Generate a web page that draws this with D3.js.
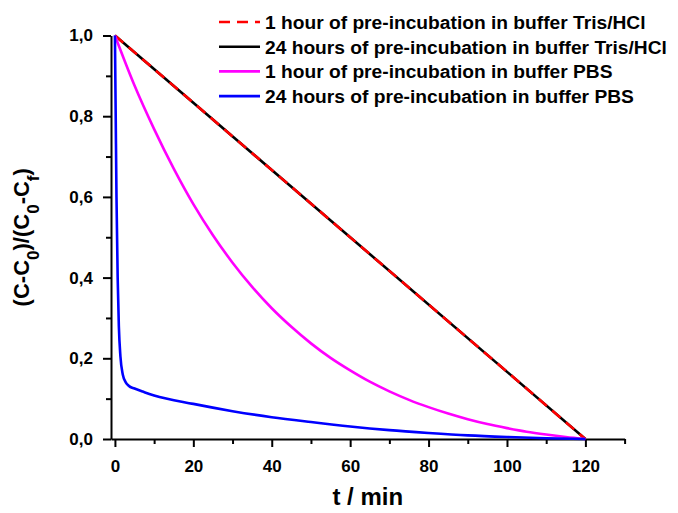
<!DOCTYPE html>
<html>
<head>
<meta charset="utf-8">
<script src="https://cdn.jsdelivr.net/npm/d3@7"></script>
<style>
  body { margin: 0; background: #fff; }
  svg text { font-family: "Liberation Sans", Arial, sans-serif; font-weight: bold; fill: #000; }
</style>
</head>
<body>
<div id="chart"></div>
<script>
// series names (legend order)
var seriesNames = [
    "1 hour of pre-incubation in buffer Tris/HCl",
    "24 hours of pre-incubation in buffer Tris/HCl",
    "1 hour of pre-incubation in buffer PBS",
    "24 hours of pre-incubation in buffer PBS"
];

// Tris/HCl, 1 h and 24 h (identical straight lines)
var trisTime = [0, 120];
var tris1h = [1.0, 0.0];
var tris24h = [1.0, 0.0];

// PBS 1 h
var pbs1hTime = [0, 5, 10, 15, 20, 25, 30, 35, 40, 45, 50, 55, 60, 65, 70, 75, 80, 85, 90, 95, 100, 105, 110, 115, 120];
var pbs1h = [1.0, 0.876, 0.768, 0.670, 0.582, 0.505, 0.437, 0.377, 0.324, 0.278, 0.237, 0.201, 0.170, 0.142, 0.118, 0.097, 0.079, 0.063, 0.049, 0.037, 0.027, 0.018, 0.011, 0.005, 0.0];

// PBS 24 h
var pbs24hTime = [0, 0.2, 0.4, 0.7, 1.0, 1.4, 2, 2.8, 3.5, 5, 7.5, 10, 20, 30, 40, 50, 60, 70, 80, 90, 100, 110, 120];
var pbs24h = [1.0, 0.8, 0.6, 0.4, 0.28, 0.205, 0.16, 0.14, 0.132, 0.125, 0.116, 0.108, 0.087, 0.069, 0.054, 0.042, 0.031, 0.022, 0.015, 0.009, 0.005, 0.002, 0.0];

var xMajorTicks = [0, 20, 40, 60, 80, 100, 120];
var xMinorTicks = [10, 30, 50, 70, 90, 110, 130];
var yMajorTicks = [0, 0.2, 0.4, 0.6, 0.8, 1.0];
var yMinorTicks = [0.1, 0.3, 0.5, 0.7, 0.9];

var width = 678, height = 513;
var margin = {top: 35.5, right: 53.4, bottom: 74, left: 111},
    w = width - margin.left - margin.right,
    h = height - margin.top - margin.bottom;

var svg = d3.select("#chart").append("svg")
    .attr("width", width)
    .attr("height", height);

var g = svg.append("g")
    .attr("transform", "translate(" + margin.left + "," + margin.top + ")");

var x = d3.scaleLinear().domain([-1, 130]).range([0, w]);
var y = d3.scaleLinear().domain([0, 1]).range([h, 0]);

var fmt = function(d) { return d3.format(".1f")(d).replace(".", ","); };

// minor ticks first
g.append("g")
    .attr("transform", "translate(0," + h + ")")
    .call(d3.axisBottom(x).tickValues(xMinorTicks).tickSize(5).tickSizeOuter(0).tickFormat(""))
    .call(function(a) { a.select(".domain").remove(); a.selectAll("line").attr("stroke", "#000").attr("stroke-width", 2); });
g.append("g")
    .call(d3.axisLeft(y).tickValues(yMinorTicks).tickSize(5).tickSizeOuter(0).tickFormat(""))
    .call(function(a) { a.select(".domain").remove(); a.selectAll("line").attr("stroke", "#000").attr("stroke-width", 2); });

// major axes
var xAxis = g.append("g")
    .attr("transform", "translate(0," + h + ")")
    .call(d3.axisBottom(x).tickValues(xMajorTicks).tickSize(8).tickSizeOuter(0).tickPadding(13));
var yAxis = g.append("g")
    .call(d3.axisLeft(y).tickValues(yMajorTicks).tickSize(8).tickSizeOuter(0).tickPadding(10).tickFormat(fmt));

[xAxis, yAxis].forEach(function(a) {
    a.select(".domain").attr("stroke", "#000").attr("stroke-width", 2);
    a.selectAll("line").attr("stroke", "#000").attr("stroke-width", 2);
    a.selectAll("text")
        .style("font-size", "17px")
        .style("font-family", "'Liberation Sans', Arial, sans-serif")
        .style("font-weight", "bold")
        .attr("fill", "#000");
});

var line = d3.line()
    .x(function(d) { return x(d[0]); })
    .y(function(d) { return y(d[1]); })
    .curve(d3.curveMonotoneX);

function pairs(t, v) { return t.map(function(d, i) { return [d, v[i]]; }); }

var series = [
    {data: pairs(trisTime, tris24h), color: "#000000", dash: null},
    {data: pairs(trisTime, tris1h), color: "#ff0000", dash: "11,7"},
    {data: pairs(pbs1hTime, pbs1h), color: "#ff00ff", dash: null},
    {data: pairs(pbs24hTime, pbs24h), color: "#0000ff", dash: null}
];

series.forEach(function(s) {
    g.append("path")
        .datum(s.data)
        .attr("d", line)
        .attr("fill", "none")
        .attr("stroke", s.color)
        .attr("stroke-width", 2.6)
        .attr("stroke-dasharray", s.dash);
});

// legend
var legendStyle = [
    {color: "#ff0000", dash: "11,7"},
    {color: "#000000", dash: null},
    {color: "#ff00ff", dash: null},
    {color: "#0000ff", dash: null}
];
var legend = svg.append("g").attr("transform", "translate(219,22)");
seriesNames.forEach(function(name, i) {
    var row = legend.append("g").attr("transform", "translate(0," + (i * 24.7) + ")");
    row.append("line")
        .attr("x1", 0).attr("x2", 41)
        .attr("y1", 0).attr("y2", 0)
        .attr("stroke", legendStyle[i].color)
        .attr("stroke-width", 2.6)
        .attr("stroke-dasharray", legendStyle[i].dash);
    row.append("text")
        .attr("x", 46)
        .attr("y", 6.8)
        .style("font-size", "19.2px")
        .text(name);
});

// axis titles
svg.append("text")
    .attr("x", margin.left + w / 2)
    .attr("y", 505)
    .attr("text-anchor", "middle")
    .style("font-size", "24px")
    .text("t / min");

var yt = svg.append("text")
    .attr("transform", "translate(29," + (margin.top + h / 2) + ") rotate(-90)")
    .attr("text-anchor", "middle")
    .style("font-size", "22px");
yt.append("tspan").text("(C-C");
yt.append("tspan").attr("baseline-shift", "sub").style("font-size", "17px").text("0");
yt.append("tspan").text(")/(C");
yt.append("tspan").attr("baseline-shift", "sub").style("font-size", "17px").text("0");
yt.append("tspan").text("-C");
yt.append("tspan").attr("baseline-shift", "sub").style("font-size", "17px").text("f");
yt.append("tspan").text(")");
</script>
</body>
</html>
